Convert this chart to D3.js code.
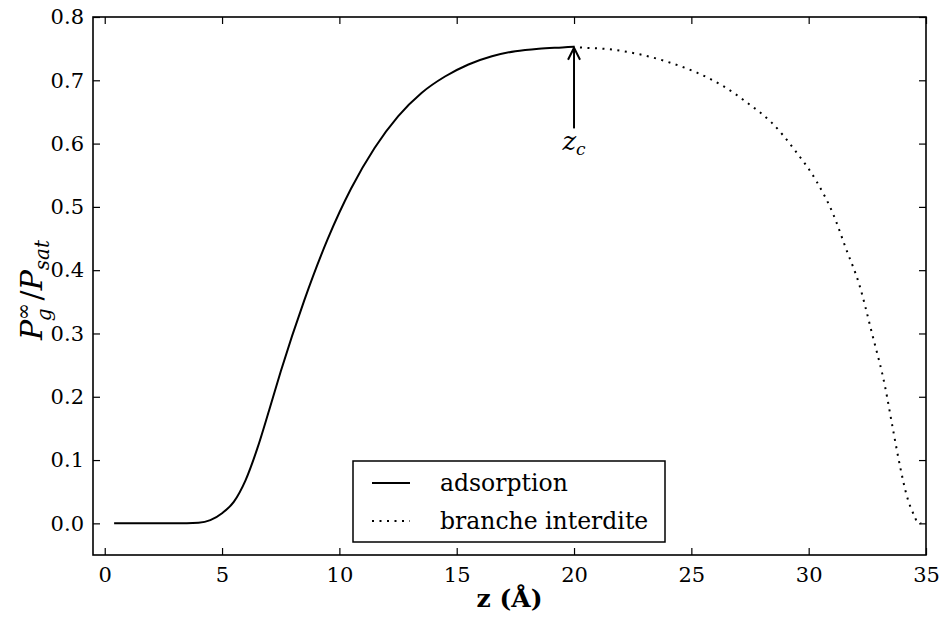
<!DOCTYPE html>
<html><head><meta charset="utf-8">
<script src="https://cdn.jsdelivr.net/npm/d3@7"></script>
<style>body{margin:0;background:#fff}svg{display:block}text{font-family:"DejaVu Serif",serif;fill:#000}</style>
</head><body><svg id="c" width="939" height="619"></svg>
<script>
const zAds = [0.4, 1, 2, 3, 4, 4.5, 5, 5.5, 6, 6.5, 7, 7.5, 8.5, 9.5, 10.5, 11.5, 12.5, 13.5, 14.5, 15.5, 16.5, 17.5, 18.5, 19.5, 20];
const vAds = [0, 0, 0, 0, 0.001, 0.005, 0.016, 0.034, 0.068, 0.118, 0.178, 0.24, 0.352, 0.449, 0.529, 0.593, 0.643, 0.680, 0.706, 0.725, 0.738, 0.746, 0.750, 0.752, 0.753];
const zBr = [20, 20.26, 21.5, 22.8, 24.0, 25.24, 26.35, 27.4, 28.4, 29.4, 30.34, 31.04, 31.6, 32.15, 32.7, 33.25, 33.6, 33.9, 34.17, 34.5, 34.65, 34.8];
const vBr = [0.753, 0.752, 0.749, 0.741, 0.729, 0.712, 0.691, 0.664, 0.634, 0.590, 0.540, 0.489, 0.433, 0.378, 0.30, 0.217, 0.147, 0.089, 0.045, 0.012, 0.001, 0];
const xTicks = [0, 5, 10, 15, 20, 25, 30, 35];
const yTicks = [0.0, 0.1, 0.2, 0.3, 0.4, 0.5, 0.6, 0.7, 0.8];
const legendLabels = ["adsorption", "branche interdite"];
const zc = 20, zcTail = 0.624, zcHead = 0.753;

const FONT = '"DejaVu Serif",serif';
const L = 93, R = 926, T = 17, B = 555;
const svg = d3.select("#c");
const x = d3.scaleLinear().domain([-0.5, 35]).range([L, R]);
const y = d3.scaleLinear().domain([-0.05, 0.8]).range([B, T]);

const line = d3.line().x(d => x(d[0])).y(d => y(d[1])).curve(d3.curveMonotoneX);
svg.append("path").datum(zAds.map((z, i) => [z, vAds[i]])).attr("d", line)
  .attr("fill", "none").attr("stroke", "#000").attr("stroke-width", 2);
svg.append("path").datum(zBr.map((z, i) => [z, vBr[i]])).attr("d", line)
  .attr("fill", "none").attr("stroke", "#000").attr("stroke-width", 2)
  .attr("stroke-dasharray", "2,5.5").attr("stroke-dashoffset", -6);

const fs = 21;
const gx = svg.append("g").attr("transform", `translate(0,${B})`)
  .call(d3.axisBottom(x).tickValues(xTicks).tickSize(-7).tickPadding(12).tickFormat(d3.format("d")));
const gxt = svg.append("g").attr("transform", `translate(0,${T})`)
  .call(d3.axisTop(x).tickValues(xTicks).tickSize(-7).tickFormat(""));
const gy = svg.append("g").attr("transform", `translate(${L},0)`)
  .call(d3.axisLeft(y).tickValues(yTicks).tickSize(-7).tickPadding(9).tickFormat(d3.format(".1f")));
const gyr = svg.append("g").attr("transform", `translate(${R},0)`)
  .call(d3.axisRight(y).tickValues(yTicks).tickSize(-7).tickFormat(""));
[gx, gxt, gy, gyr].forEach(g => {
  g.attr("font-family", null).attr("font-size", null);
  g.select(".domain").remove();
  g.selectAll(".tick line").attr("stroke", "#000").attr("stroke-width", 1.2);
  g.selectAll("text").style("font-family", FONT).style("font-size", fs + "px").attr("fill", "#000");
});
gx.selectAll("text").attr("dy", "0.71em");
svg.append("rect").attr("x", L).attr("y", T).attr("width", R - L).attr("height", B - T)
  .attr("fill", "none").attr("stroke", "#000").attr("stroke-width", 1.6);

svg.append("text").attr("x", (L + R) / 2).attr("y", 607).attr("text-anchor", "middle")
  .style("font-family", FONT).style("font-size", "25px").style("font-weight", "bold").text("z (Å)");

const yl = svg.append("text").attr("transform", `translate(42,290) rotate(-90)`)
  .attr("text-anchor", "middle").style("font-family", FONT).style("font-size", "30px")
  .style("font-style", "italic").style("font-weight", "normal");
yl.append("tspan").text("P");
yl.append("tspan").attr("dy", -12).style("font-size", "20px").style("font-style", "normal").text("∞");
yl.append("tspan").attr("dx", -18).attr("dy", 21).style("font-size", "20px").text("g");
yl.append("tspan").attr("dx", 8).attr("dy", -9).style("font-style", "normal").text("/");
yl.append("tspan").text("P");
yl.append("tspan").attr("dy", 7).style("font-size", "20px").text("sat");

const ax = x(zc), ay0 = y(zcTail), ay1 = y(zcHead) + 1;
svg.append("line").attr("x1", ax).attr("x2", ax).attr("y1", ay0).attr("y2", ay1)
  .attr("stroke", "#000").attr("stroke-width", 2);
svg.append("path").attr("d", `M${ax - 6},${ay1 + 12} L${ax},${ay1} L${ax + 6},${ay1 + 12}`)
  .attr("fill", "none").attr("stroke", "#000").attr("stroke-width", 2);
const zt = svg.append("text").attr("x", ax).attr("y", ay0 + 22).attr("text-anchor", "middle")
  .style("font-family", FONT).style("font-size", "26px").style("font-style", "italic");
zt.append("tspan").text("z");
zt.append("tspan").attr("dy", 5).style("font-size", "17px").text("c");

const lg = svg.append("g");
lg.append("rect").attr("x", 353).attr("y", 461).attr("width", 312).attr("height", 81)
  .attr("fill", "#fff").attr("stroke", "#000").attr("stroke-width", 1.5);
const rows = [483, 521];
legendLabels.forEach((t, i) => {
  const l = lg.append("line").attr("x1", 372).attr("x2", 410).attr("y1", rows[i]).attr("y2", rows[i])
    .attr("stroke", "#000").attr("stroke-width", 2);
  if (i === 1) l.attr("stroke-dasharray", "2,5.5");
  lg.append("text").attr("x", 440).attr("y", rows[i]).attr("dy", "0.35em")
    .style("font-family", FONT).style("font-size", "23.5px").text(t);
});
</script></body></html>
